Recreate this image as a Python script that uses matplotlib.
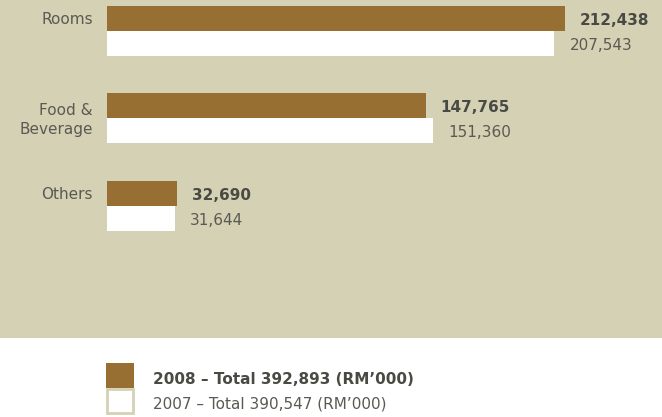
import matplotlib.pyplot as plt
from matplotlib.patches import Rectangle
from matplotlib.transforms import offset_copy

categories = ['Rooms', 'Food &\nBeverage', 'Others']
values_2008 = [212438, 147765, 32690]
values_2007 = [207543, 151360, 31644]
legend_labels = ['2008 \u2013 Total 392,893 (RM\u2019000)',
                 '2007 \u2013 Total 390,547 (RM\u2019000)']

BEIGE = '#d4d1b4'
BROWN = '#976f32'
TEXT = '#5a5a52'
TEXT_BOLD = '#4a4a44'

W, H = 662, 417
fig = plt.figure(figsize=(W / 100, H / 100), dpi=100)

# beige panel behind the bars
fig.patches.append(Rectangle((0, 1 - 338 / H), 1, 338 / H, transform=fig.transFigure,
                             facecolor=BEIGE, edgecolor='none', zorder=-10))

ax = fig.add_axes([107 / W, 1 - 338 / H, 1 - 107 / W, 338 / H])
ax.set_zorder(1)
ax.set_facecolor('none')
ax.set_xlim(0, 555 / 0.002156)
ax.set_ylim(338 / 87.5 - 31 / 87.5, -31 / 87.5)
ax.axis('off')

h = 25 / 87.5
pos = range(len(categories))
y08 = [i - h / 2 for i in pos]
y07 = [i + h / 2 for i in pos]
ax.barh(y08, values_2008, height=h, color=BROWN, linewidth=0)
ax.barh(y07, values_2007, height=h, color='white', linewidth=0)

right = offset_copy(ax.transData, fig=fig, x=15, y=-2, units='dots')
left = offset_copy(ax.transData, fig=fig, x=-14, y=-1.5, units='dots')
for i, cat in enumerate(categories):
    ax.text(values_2008[i], y08[i], f'{values_2008[i]:,}', transform=right,
            ha='left', va='center', fontsize=11, fontweight='bold', color=TEXT_BOLD,
            clip_on=False)
    ax.text(values_2007[i], y07[i], f'{values_2007[i]:,}', transform=right,
            ha='left', va='center', fontsize=11, color=TEXT, clip_on=False)
    ly = i if '\n' in cat else y08[i]
    ax.text(0, ly, cat, transform=left, ha='right', va='center', fontsize=11,
            color=TEXT, linespacing=1.4, clip_on=False)

# legend
fig.patches.append(Rectangle((106 / W, (H - 388) / H), 28 / W, 25 / H,
                             transform=fig.transFigure, facecolor=BROWN, edgecolor='none'))
fig.patches.append(Rectangle((107 / W, (H - 413) / H), 26 / W, 24 / H,
                             transform=fig.transFigure, facecolor='white',
                             edgecolor=BEIGE, linewidth=2))
fig.text(153 / W, (H - 380) / H, legend_labels[0], ha='left', va='center',
         fontsize=11, fontweight='bold', color=TEXT_BOLD)
fig.text(153 / W, (H - 404) / H, legend_labels[1], ha='left', va='center',
         fontsize=11, color=TEXT)

fig.savefig('out.png', dpi=100, facecolor='white')
